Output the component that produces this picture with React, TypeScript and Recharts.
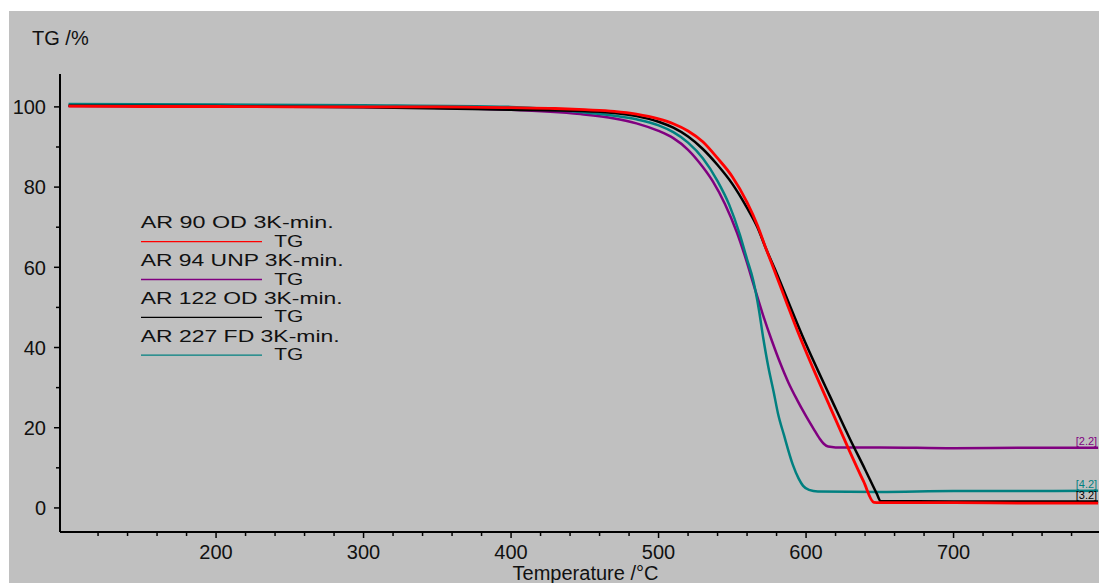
import React from 'react';
import { LineChart, Line, XAxis, YAxis, Legend, LabelList, Label } from 'recharts';

// Temperature (°C) and TG (%) pairs
const ar90od: [number, number][] = [
  [100, 100.2], [150, 100.1], [200, 100.1], [250, 100.0], [300, 100.0], [350, 100.0],
  [400, 99.8], [430, 99.6], [450, 99.3], [470, 98.9], [485, 98.2], [500, 97.0],
  [510, 95.8], [520, 94.0], [530, 91.3], [540, 87.2], [550, 82.6], [560, 76.2],
  [567, 70.5], [573, 64.5], [580, 57.8], [587, 51.0], [594, 44.3], [605, 34.6],
  [616, 25.4], [628, 15.4], [639, 6.6], [646, 1.4], [650, 1.3], [700, 1.3], [750, 1.2], [798, 1.2],
];
const ar94unp: [number, number][] = [
  [100, 100.2], [200, 100.1], [300, 100.0], [400, 99.3], [447, 98.2], [470, 97.1],
  [485, 95.9], [500, 94.0], [510, 92.2], [520, 89.3], [530, 85.0], [537, 81.3],
  [545, 75.8], [553, 68.8], [559, 62.3], [565, 55.0], [571, 47.9], [577, 41.5],
  [582.4, 36.2], [588, 31.3], [594, 26.9], [600, 22.9], [605, 19.8], [609, 17.4],
  [612, 16.0], [615, 15.3], [620, 15.1], [650, 15.1], [700, 14.9], [750, 15.0], [798, 15.0],
];
const ar122od: [number, number][] = [
  [100, 100.3], [200, 100.2], [300, 99.9], [400, 99.3], [447, 99.0], [470, 98.5],
  [485, 97.7], [500, 96.3], [510, 94.8], [520, 92.6], [530, 89.5], [540, 85.5],
  [550, 80.8], [560, 74.8], [567, 70.0], [573, 64.5], [580, 58.6], [587, 52.3],
  [594, 46.0], [600, 40.8], [608, 34.3], [616, 28.0], [630, 17.0], [640, 9.6],
  [648, 3.5], [650.5, 1.7], [700, 1.6], [798, 1.6],
];
const ar227fd: [number, number][] = [
  [100, 100.7], [200, 100.6], [300, 100.4], [400, 100.0], [447, 98.7], [470, 97.8],
  [485, 96.9], [500, 95.4], [510, 93.7], [520, 91.1], [530, 87.2], [540, 81.5],
  [548, 75.5], [555, 68.3], [560, 62.0], [564, 57.0], [568, 49.5], [571, 42.3],
  [574.5, 35.0], [578, 29.0], [581, 23.5], [585, 18.2], [591, 10.8], [595, 7.3],
  [598, 5.5], [602, 4.5], [608, 4.1], [650, 4.0], [700, 4.2], [750, 4.2], [798, 4.3],
];

const seriesNames = ['AR 90 OD 3K-min.', 'AR 94 UNP 3K-min.', 'AR 122 OD 3K-min.', 'AR 227 FD 3K-min.'];
const seriesColors = ['#ff0000', '#800080', '#000000', '#008080'];
const seriesTags = ['', '[2.2]', '[3.2]', '[4.2]'];
const legendWidths = [193, 203, 202, 199];

const xTicks = [
  120, 140, 160, 180, 200, 220, 240, 260, 280, 300, 320, 340, 360, 380, 400, 420, 440, 460, 480,
  500, 520, 540, 560, 580, 600, 620, 640, 660, 680, 700, 720, 740, 760, 780,
];
const yTicks = [0, 10, 20, 30, 40, 50, 60, 70, 80, 90, 100];

const toRows = (arr: [number, number][]) => arr.map(([t, v]) => ({ t, v }));
const seriesData = [ar90od, ar94unp, ar122od, ar227fd].map(toRows);

const FONT = '"Liberation Sans", Arial, sans-serif';

const XTick = (props: any) => {
  const { x, y, payload } = props;
  const major = payload.value % 100 === 0;
  return (
    <g>
      <line x1={x} x2={x} y1={y} y2={y + (major ? 6 : 4)} stroke="#000" strokeWidth={1.5} />
      {major && (
        <text x={x} y={y + 27} textAnchor="middle" fontSize={20} fontFamily={FONT} fill="#111">
          {payload.value}
        </text>
      )}
    </g>
  );
};

const YTick = (props: any) => {
  const { x, y, payload } = props;
  const major = payload.value % 20 === 0;
  return (
    <g>
      <line x1={x} x2={x - (major ? 6 : 4)} y1={y} y2={y} stroke="#000" strokeWidth={1.5} />
      {major && (
        <text x={x - 14} y={y} dy="0.36em" textAnchor="end" fontSize={20} fontFamily={FONT} fill="#111">
          {payload.value}
        </text>
      )}
    </g>
  );
};

const LegendContent = () => (
  <svg width={260} height={170} style={{ display: 'block' }}>
    {seriesNames.map((name, i) => {
      const dy = i * 37.8;
      return (
        <g key={name}>
          <text
            x={10.7}
            y={28.3 + dy}
            fontSize={17}
            fontFamily={FONT}
            fill="#111"
            textLength={legendWidths[i]}
            lengthAdjust="spacingAndGlyphs"
          >
            {name}
          </text>
          <line x1={11} x2={132} y1={41.7 + dy} y2={41.7 + dy} stroke={seriesColors[i]} strokeWidth={1.3} />
          <text
            x={144.3}
            y={46.7 + dy}
            fontSize={17}
            fontFamily={FONT}
            fill="#111"
            textLength={29}
            lengthAdjust="spacingAndGlyphs"
          >
            TG
          </text>
        </g>
      );
    })}
  </svg>
);

const makeTag = (i: number) => (props: any) => {
  const { x, y, index } = props;
  if (index !== seriesData[i].length - 1 || !seriesTags[i]) return null;
  return (
    <text x={x - 1} y={y - 3} textAnchor="end" fontSize={11} fontFamily={FONT} fill={seriesColors[i]}>
      {seriesTags[i]}
    </text>
  );
};

const drawOrder = [1, 3, 2, 0];

export default function App() {
  return (
    <div
      style={{
        position: 'absolute',
        left: 9,
        top: 11,
        width: 1090,
        height: 572,
        background: '#c0c0c0',
        overflow: 'hidden',
      }}
    >
      <LineChart width={1090} height={572} margin={{ top: 63, right: 0, bottom: 0, left: 0 }}>
        <XAxis
          type="number"
          dataKey="t"
          domain={[94.2, 798.6]}
          allowDataOverflow
          ticks={xTicks}
          interval={0}
          tickSize={0}
          tickMargin={0}
          tickLine={false}
          tick={<XTick />}
          height={51}
          axisLine={{ stroke: '#000', strokeWidth: 2 }}
        >
          <Label
            value="Temperature /°C"
            position="insideBottom"
            offset={3}
            dx={6}
            style={{ fontSize: 20, fontFamily: FONT, fill: '#111' }}
          />
        </XAxis>
        <YAxis
          type="number"
          domain={[-6, 108.2]}
          allowDataOverflow
          ticks={yTicks}
          interval={0}
          tickSize={0}
          tickMargin={0}
          tickLine={false}
          tick={<YTick />}
          width={51}
          axisLine={{ stroke: '#000', strokeWidth: 2 }}
        >
          <Label
            content={() => (
              <text x={23} y={34} fontSize={20} fontFamily={FONT} fill="#111">
                TG /%
              </text>
            )}
          />
        </YAxis>
        <Legend
          layout="vertical"
          align="center"
          verticalAlign="middle"
          content={<LegendContent />}
          wrapperStyle={{ left: 121, top: 189, width: 260, height: 170 }}
        />
        {drawOrder.map((i) => (
          <Line
            key={seriesNames[i]}
            name={seriesNames[i]}
            data={seriesData[i]}
            dataKey="v"
            type="monotone"
            stroke={seriesColors[i]}
            strokeWidth={i === 0 ? 2.8 : 2.5}
            dot={false}
            activeDot={false}
            isAnimationActive={false}
          >
            <LabelList dataKey="v" content={makeTag(i)} />
          </Line>
        ))}
      </LineChart>
    </div>
  );
}
